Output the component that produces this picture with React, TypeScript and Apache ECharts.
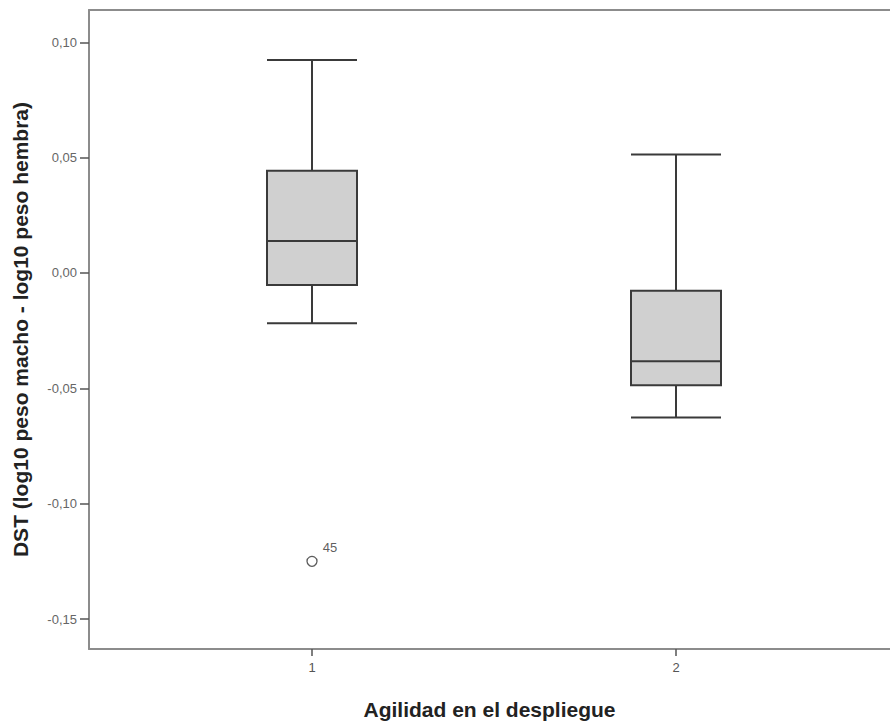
import React, { useEffect, useRef } from "react";
import * as echarts from "echarts";

const groups = [1, 2];
const whiskerLow = [-0.0218, -0.0627];
const q1 = [-0.0052, -0.0487];
const median = [0.0139, -0.0383];
const q3 = [0.0443, -0.0077];
const whiskerHigh = [0.0923, 0.0514];
const outliers = [[1, -0.125, "45"]];
const yTicks = [-0.15, -0.1, -0.05, 0, 0.05, 0.1];
const xTicks = [1, 2];

export default function App() {
  const ref = useRef<HTMLDivElement>(null);
  useEffect(() => {
    if (!ref.current) return;
    const chart = echarts.init(ref.current, null, { renderer: "svg" });
    const gridLeft = 89;
    const gridRight = 0;
    const pxPerUnit = 364;
    const xMin = 1 - 223 / pxPerUnit;
    const xMax = xMin + (890 - gridLeft - gridRight) / pxPerUnit;
    const boxData = groups.map((g, i) => [g, whiskerLow[i], q1[i], median[i], q3[i], whiskerHigh[i]]);
    const axisColor = "#8c8c8c";
    chart.setOption({
      animation: false,
      backgroundColor: "#fff",
      grid: {
        left: gridLeft,
        right: gridRight,
        top: 10,
        bottom: 73,
        show: false,
      },
      xAxis: [
        {
          type: "value",
          min: xMin,
          max: xMax,
          position: "bottom",
          name: "Agilidad en el despliegue",
          nameLocation: "middle",
          nameGap: 50,
          nameTextStyle: { fontFamily: "Liberation Sans", fontWeight: "bold", fontSize: 21, color: "#222" },
          axisLine: { show: true, onZero: false, lineStyle: { color: axisColor, width: 2 } },
          axisTick: { show: true, customValues: xTicks, length: 7, lineStyle: { color: "#555", width: 1.5 } },
          axisLabel: {
            customValues: xTicks,
            formatter: (v: number) => String(v),
            fontFamily: "Liberation Sans",
            fontSize: 13,
            color: "#555",
            margin: 12,
          },
          splitLine: { show: false },
        },
        {
          type: "value",
          min: xMin,
          max: xMax,
          position: "top",
          axisLine: { show: true, onZero: false, lineStyle: { color: axisColor, width: 2 } },
          axisTick: { show: false },
          axisLabel: { show: false },
          splitLine: { show: false },
        },
      ],
      yAxis: {
        type: "value",
        min: -0.163,
        max: 0.114,
        name: "DST (log10 peso macho - log10 peso hembra)",
        nameLocation: "middle",
        nameRotate: 90,
        nameGap: 58,
        nameTextStyle: { fontFamily: "Liberation Sans", fontWeight: "bold", fontSize: 21, color: "#222" },
        axisLine: { show: true, onZero: false, lineStyle: { color: axisColor, width: 2 } },
        axisTick: { show: true, customValues: yTicks, length: 9, lineStyle: { color: "#555", width: 1.5 } },
        axisLabel: {
          customValues: yTicks,
          formatter: (v: number) => v.toFixed(2).replace(".", ","),
          fontFamily: "Liberation Sans",
          fontSize: 13,
          color: "#666",
          margin: 12,
        },
        splitLine: { show: false },
      },
      series: [
        {
          type: "boxplot",
          xAxisIndex: 0,
          data: boxData,
          boxWidth: [90, 90],
          itemStyle: { color: "#d0d0d0", borderColor: "#3a3a3a", borderWidth: 2 },
        },
        {
          type: "scatter",
          xAxisIndex: 0,
          data: outliers.map((o) => ({ value: [o[0], o[1]], name: o[2] })),
          symbol: "circle",
          symbolSize: 10,
          itemStyle: { color: "#fff", borderColor: "#333", borderWidth: 1.3 },
          label: {
            show: true,
            position: "right",
            offset: [0, -14],
            formatter: (p: any) => p.name,
            fontFamily: "Liberation Sans",
            fontSize: 13,
            color: "#333",
          },
        },
      ],
    });
    return () => chart.dispose();
  }, []);
  return <div ref={ref} style={{ position: "fixed", left: 0, top: 0, width: 890, height: 725 }} />;
}
